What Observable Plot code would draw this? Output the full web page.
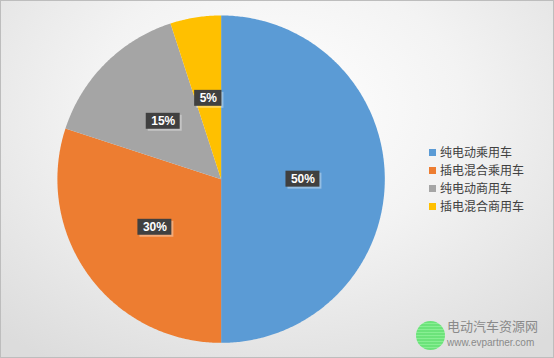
<!DOCTYPE html>
<html>
<head>
<meta charset="utf-8">
<script src="https://cdn.jsdelivr.net/npm/d3@7"></script>
<script src="https://cdn.jsdelivr.net/npm/@observablehq/plot@0.6"></script>
<style>
  html, body { margin: 0; padding: 0; }
  #wrap {
    position: relative; width: 554px; height: 358px; box-sizing: border-box;
    border: 1px solid #bdbdbd;
    background: radial-gradient(ellipse 75% 85% at 50% 30%, #ffffff 0%, #f3f3f3 45%, #dcdcdc 100%);
    overflow: hidden;
    font-family: "Noto Sans CJK SC", sans-serif;
  }
  #chart { position: absolute; left: -1px; top: -1px; }
  #legend { position: absolute; left: 428px; top: 142px; font-size: 12px; color: #404040; line-height: 18px; }
  #legend .item { display: flex; align-items: center; white-space: nowrap; }
  #legend .sw { width: 7px; height: 7px; margin-right: 4px; }
  .logo { position: absolute; left: 415px; top: 320px; width: 29px; height: 29px; border-radius: 50%;
          background: repeating-linear-gradient(0deg, #5fe36f 0px, #5fe36f 2px, #7ef08a 2px, #7ef08a 3px); opacity: 0.9; }
  .t1 { position: absolute; left: 446px; top: 318px; font-size: 13px; line-height: 14px; height: 14px; color: #8a8a8a; white-space: nowrap; }
  .t2 { position: absolute; left: 446px; top: 337px; font-size: 10px; line-height: 10px; height: 10px; color: #8a8a8a; font-family: "Liberation Sans", Arial, sans-serif; white-space: nowrap; }
</style>
</head>
<body>
<div id="wrap">
  <div id="chart"></div>
  <div id="legend"></div>
  <div class="logo"></div><div class="t1">电动汽车资源网</div><div class="t2">www.evpartner.com</div>
</div>
<script>
const categories = ["纯电动乘用车", "插电混合乘用车", "纯电动商用车", "插电混合商用车"];
const values = [50, 30, 15, 5];
const labels = ["50%", "30%", "15%", "5%"];
const colors = ["#5B9BD5", "#ED7D31", "#A5A5A5", "#FFC000"];

const rows = categories.map((c, i) => ({category: c, value: values[i], label: labels[i]}));
const arcs = d3.pie().sort(null).value(d => d.value)(rows);

// polygon vertices (unit circle) for each slice
const verts = [];
for (const a of arcs) {
  const n = Math.max(2, Math.ceil((a.endAngle - a.startAngle) / 0.01));
  verts.push({category: a.data.category, x: 0, y: 0});
  for (let k = 0; k <= n; k++) {
    const t = a.startAngle + (a.endAngle - a.startAngle) * k / n;
    verts.push({category: a.data.category, x: Math.sin(t), y: Math.cos(t)});
  }
  verts.push({category: a.data.category, x: 0, y: 0});
}
const labelPts = arcs.map(a => {
  const m = (a.startAngle + a.endAngle) / 2;
  return {label: a.data.label, x: 0.5 * Math.sin(m), y: 0.5 * Math.cos(m)};
});

const cx = 221, cy = 179, R = 164;
const ctx2 = document.createElement("canvas").getContext("2d");
ctx2.font = "bold 12px 'Liberation Sans'";

const plot = Plot.plot({
  width: 554, height: 358,
  style: {background: "transparent", overflow: "visible"},
  x: {domain: [-1, 1], range: [cx - R, cx + R], axis: null},
  y: {domain: [-1, 1], range: [cy + R, cy - R], axis: null},
  color: {domain: categories, range: colors},
  marks: [
    Plot.line(verts, {x: "x", y: "y", z: "category", fill: "category", stroke: "none", curve: "linear"}),
    Plot.text(labelPts, {
      x: "x", y: "y", text: "label", fill: "white", fontWeight: "bold", fontSize: 12,
      fontFamily: "Liberation Sans",
      render(index, scales, values, dims, context, next) {
        const g = next(index, scales, values, dims, context);
        const ns = "http://www.w3.org/2000/svg";
        const bg = document.createElementNS(ns, "g");
        for (const i of index) {
          const w = ctx2.measureText(labelPts[i].label).width + 10;
          const h = 16;
          const x = values.x[i], y = values.y[i];
          const sh = document.createElementNS(ns, "rect");
          sh.setAttribute("x", x - w / 2 + 2); sh.setAttribute("y", y - h / 2 + 2);
          sh.setAttribute("width", w); sh.setAttribute("height", h);
          sh.setAttribute("fill", "white"); sh.setAttribute("opacity", 0.35);
          bg.appendChild(sh);
          const r = document.createElementNS(ns, "rect");
          r.setAttribute("x", x - w / 2); r.setAttribute("y", y - h / 2);
          r.setAttribute("width", w); r.setAttribute("height", h);
          r.setAttribute("fill", "#404040");
          bg.appendChild(r);
        }
        const wrapG = document.createElementNS(ns, "g");
        wrapG.appendChild(bg);
        wrapG.appendChild(g);
        return wrapG;
      }
    })
  ]
});
document.getElementById("chart").appendChild(plot);

const legend = document.getElementById("legend");
categories.forEach((c, i) => {
  const it = document.createElement("div");
  it.className = "item";
  it.innerHTML = `<span class="sw" style="background:${colors[i]}"></span><span>${c}</span>`;
  legend.appendChild(it);
});
</script>
</body>
</html>
